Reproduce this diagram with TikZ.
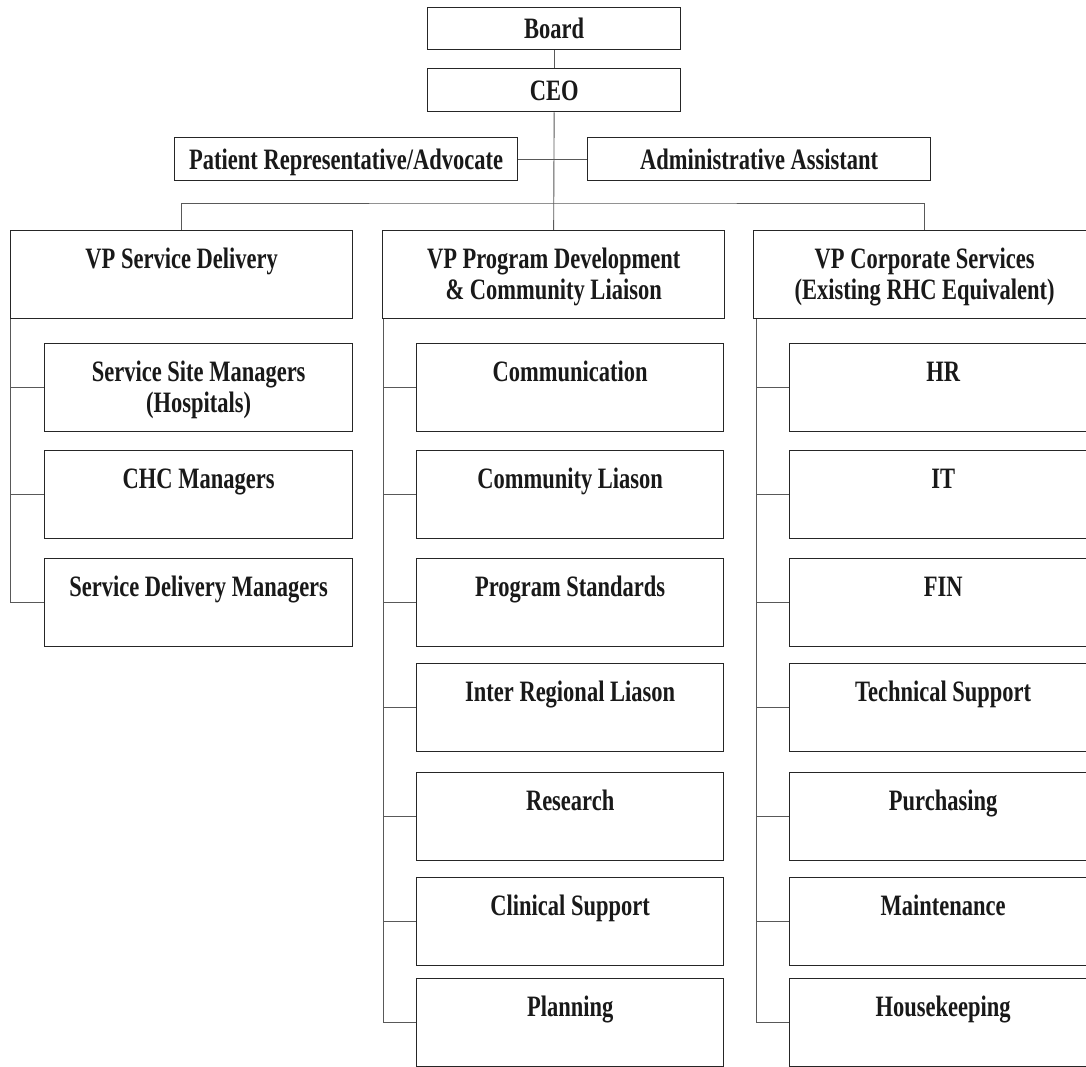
\documentclass[tikz,border=0pt]{standalone}
\usepackage{fontspec}
\setmainfont{Liberation Serif}[FakeStretch=0.76]
\newcommand\orgtext[3]{\parbox[t][#2][t]{#1}{\centering\rule{0pt}{38pt}#3}}
\tikzset{
  box/.style={draw=black!85, line width=1.3pt, inner sep=0pt, anchor=north west,
    text=black!90, font=\fontsize{29.6}{31}\selectfont\bfseries},
  topbox/.style={box, text height=20pt, text depth=0pt},
  conn/.style={draw=black!65, line width=0.9pt},
}
\begin{document}
\begin{tikzpicture}[x=1pt,y=-1pt]
\clip (0,0) rectangle (1086,1067);
\fill[white] (0,0) rectangle (1086,1067);
% top
\node[topbox, minimum width=253, minimum height=42] (board) at (427,7) {Board};
\node[topbox, minimum width=253, minimum height=43] (ceo) at (427,68) {CEO};
\node[topbox, minimum width=343, minimum height=43] (pat) at (174,137) {Patient Representative/Advocate};
\node[topbox, minimum width=343, minimum height=43] (adm) at (587,137) {Administrative Assistant};
% VPs
\node[box] (vp1) at (10,230) {\orgtext{342pt}{88pt}{VP Service Delivery}};
\node[box] (vp2) at (382,230) {\orgtext{342pt}{88pt}{VP Program Development\\\& Community Liaison}};
\node[box] (vp3) at (753,230) {\orgtext{342pt}{88pt}{VP Corporate Services\\(Existing RHC Equivalent)}};
% column 1
\node[box] (a1) at (44,343) {\orgtext{308pt}{88pt}{Service Site Managers\\(Hospitals)}};
\node[box] (a2) at (44,450) {\orgtext{308pt}{88pt}{CHC Managers}};
\node[box] (a3) at (44,558) {\orgtext{308pt}{88pt}{Service Delivery Managers}};
% column 2
\node[box] (b1) at (416,343) {\orgtext{307pt}{88pt}{Communication}};
\node[box] (b2) at (416,450) {\orgtext{307pt}{88pt}{Community Liason}};
\node[box] (b3) at (416,558) {\orgtext{307pt}{88pt}{Program Standards}};
\node[box] (b4) at (416,663) {\orgtext{307pt}{88pt}{Inter Regional Liason}};
\node[box] (b5) at (416,772) {\orgtext{307pt}{88pt}{Research}};
\node[box] (b6) at (416,877) {\orgtext{307pt}{88pt}{Clinical Support}};
\node[box] (b7) at (416,978) {\orgtext{307pt}{88pt}{Planning}};
% column 3
\node[box] (c1) at (789,343) {\orgtext{307pt}{88pt}{HR}};
\node[box] (c2) at (789,450) {\orgtext{307pt}{88pt}{IT}};
\node[box] (c3) at (789,558) {\orgtext{307pt}{88pt}{FIN}};
\node[box] (c4) at (789,663) {\orgtext{307pt}{88pt}{Technical Support}};
\node[box] (c5) at (789,772) {\orgtext{307pt}{88pt}{Purchasing}};
\node[box] (c6) at (789,877) {\orgtext{307pt}{88pt}{Maintenance}};
\node[box] (c7) at (789,978) {\orgtext{307pt}{88pt}{Housekeeping}};
% connectors
\coordinate (bus) at (553,203);
\draw[conn] (board.south) -- (ceo.north);
\draw[conn] (ceo.south) -- (vp2.north);
\draw[conn] (pat.east) -- (adm.west);
\draw[conn] (vp1.north) |- (bus) -| (vp3.north);
\foreach \n in {a1,a2,a3} \draw[conn] ([xshift=0.5pt]vp1.south west) |- (\n.west);
\foreach \n in {b1,b2,b3,b4,b5,b6,b7} \draw[conn] ([xshift=1pt]vp2.south west) |- (\n.west);
\foreach \n in {c1,c2,c3,c4,c5,c6,c7} \draw[conn] ([xshift=3pt]vp3.south west) |- (\n.west);
\end{tikzpicture}
\end{document}
